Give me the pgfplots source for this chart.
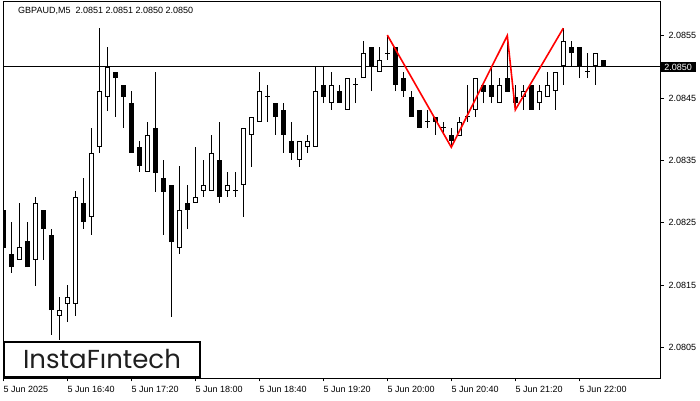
\documentclass[border=0pt]{standalone}
\usepackage{pgfplots}
\pgfplotsset{compat=1.18}
\usepackage{pgfplotstable}
\usepackage{fontspec}
\setmainfont{Liberation Sans}
\newfontfamily\logofont{Poppins}

\pgfplotstableread{
i o h l c
0 2.08271 2.08322 2.08202 2.08210
1 2.08200 2.08251 2.08170 2.08179
2 2.08191 2.08282 2.08191 2.08211
3 2.08221 2.08251 2.08179 2.08179
4 2.08191 2.08292 2.08149 2.08282
5 2.08271 2.08271 2.08191 2.08240
6 2.08231 2.08240 2.08070 2.08110
7 2.08101 2.08131 2.08062 2.08110
8 2.08120 2.08150 2.08091 2.08131
9 2.08120 2.08301 2.08101 2.08292
10 2.08282 2.08322 2.08240 2.08251
11 2.08260 2.08402 2.08231 2.08362
12 2.08372 2.08562 2.08362 2.08461
13 2.08452 2.08532 2.08429 2.08500
14 2.08492 2.08492 2.08420 2.08482
15 2.08471 2.08471 2.08402 2.08452
16 2.08442 2.08461 2.08362 2.08362
17 2.08372 2.08381 2.08332 2.08341
18 2.08332 2.08412 2.08332 2.08391
19 2.08402 2.08492 2.08300 2.08330
20 2.08322 2.08351 2.08231 2.08300
21 2.08311 2.08311 2.08099 2.08219
22 2.08210 2.08341 2.08200 2.08271
23 2.08282 2.08311 2.08240 2.08271
24 2.08282 2.08372 2.08282 2.08292
25 2.08301 2.08351 2.08292 2.08311
26 2.08301 2.08391 2.08301 2.08362
27 2.08351 2.08412 2.08282 2.08292
28 2.08301 2.08332 2.08292 2.08311
29 2.08301 2.08332 2.08292 2.08301
30 2.08311 2.08402 2.08260 2.08402
31 2.08391 2.08420 2.08340 2.08420
32 2.08412 2.08492 2.08412 2.08461
33 2.08452 2.08471 2.08412 2.08452
34 2.08442 2.08442 2.08391 2.08420
35 2.08431 2.08442 2.08362 2.08391
36 2.08381 2.08412 2.08351 2.08362
37 2.08351 2.08381 2.08340 2.08381
38 2.08372 2.08391 2.08362 2.08381
39 2.08372 2.08500 2.08372 2.08461
40 2.08471 2.08500 2.08442 2.08452
41 2.08442 2.08492 2.08431 2.08471
42 2.08461 2.08471 2.08442 2.08442
43 2.08431 2.08482 2.08431 2.08482
44 2.08471 2.08482 2.08442 2.08471
45 2.08482 2.08542 2.08482 2.08522
46 2.08532 2.08532 2.08461 2.08500
47 2.08492 2.08532 2.08492 2.08511
48 2.08522 2.08551 2.08511 2.08522
49 2.08532 2.08532 2.08461 2.08471
50 2.08482 2.08492 2.08452 2.08461
51 2.08452 2.08461 2.08420 2.08420
52 2.08431 2.08431 2.08402 2.08402
53 2.08412 2.08431 2.08402 2.08412
54 2.08420 2.08420 2.08391 2.08412
55 2.08402 2.08412 2.08391 2.08402
56 2.08391 2.08402 2.08371 2.08381
57 2.08389 2.08420 2.08389 2.08412
58 2.08420 2.08471 2.08412 2.08420
59 2.08431 2.08482 2.08420 2.08482
60 2.08471 2.08471 2.08442 2.08460
61 2.08471 2.08500 2.08442 2.08452
62 2.08442 2.08482 2.08442 2.08471
63 2.08482 2.08550 2.08460 2.08460
64 2.08452 2.08471 2.08431 2.08442
65 2.08452 2.08471 2.08431 2.08461
66 2.08471 2.08471 2.08431 2.08431
67 2.08442 2.08471 2.08431 2.08461
68 2.08452 2.08492 2.08452 2.08471
69 2.08461 2.08492 2.08431 2.08492
70 2.08501 2.08562 2.08471 2.08542
71 2.08532 2.08542 2.08501 2.08522
72 2.08532 2.08532 2.08482 2.08501
73 2.08492 2.08522 2.08482 2.08492
74 2.08501 2.08522 2.08471 2.08522
75 2.08511 2.08511 2.08501 2.08501
}\candles

\begin{document}
\begin{tikzpicture}[x=1pt,y=1pt]
\useasboundingbox (0,0) rectangle (700,400);
\begin{axis}[
  at={(3pt,22pt)}, anchor=south west, scale only axis,
  width=657pt, height=376pt,
  xmin=-0.04, xmax=82.09, ymin=2.08001, ymax=2.08604,
  clip mode=individual,
  axis line style={line width=1pt, black},
  every tick/.style={black, line width=1pt},
  major tick length=3.5pt,
  tick align=outside,
  xtick pos=bottom, ytick pos=right,
  yticklabel pos=right,
  xtick={0,8,...,72},
  xticklabels={5 Jun 2025,5 Jun 16:40,5 Jun 17:20,5 Jun 18:00,5 Jun 18:40,5 Jun 19:20,5 Jun 20:00,5 Jun 20:40,5 Jun 21:20,5 Jun 22:00},
  ytick={2.0805,2.0815,2.0825,2.0835,2.0845,2.0855},
  yticklabels={2.0805,2.0815,2.0825,2.0835,2.0845,2.0855},
  scaled y ticks=false,
  tick label style={font=\fontsize{9}{10}\selectfont, black},
  xticklabel style={anchor=north west, inner sep=0pt, yshift=-5pt},
  yticklabel style={anchor=west, inner sep=0pt, xshift=5pt},
  /pgf/number format/assume math mode=true,
]
% current price line
\addplot[black, line width=1pt, forget plot] coordinates {(-1,2.0850) (83,2.0850)};
% wicks
\addplot[draw=none, mark=none, forget plot,
  error bars/.cd, y dir=plus, y explicit, error mark=none,
  error bar style={draw=black, line width=1pt}]
  table[x=i, y=l, y error expr={\thisrow{h}-\thisrow{l}}] {\candles};
% bodies (outer black)
\addplot[draw=none, mark=none, forget plot,
  error bars/.cd, y dir=plus, y explicit, error mark=none,
  error bar style={draw=black, line width=5pt}]
  table[x=i, y expr={min(\thisrow{o},\thisrow{c})}, y error expr={abs(\thisrow{c}-\thisrow{o})}] {\candles};
% bullish bodies (white inside)
\addplot[draw=none, mark=none, forget plot,
  restrict expr to domain={\thisrow{c}-\thisrow{o}}{0.000005:1},
  error bars/.cd, y dir=plus, y explicit, error mark=none,
  error bar style={draw=white, line width=3pt, shorten <=1pt, shorten >=1pt}]
  table[x=i, y=o, y error expr={\thisrow{c}-\thisrow{o}}] {\candles};
% doji crosses
\addplot[only marks, mark=-, mark size=2.5pt, mark options={line width=1pt, draw=black}, forget plot,
  restrict expr to domain={abs(\thisrow{c}-\thisrow{o})}{0:0.000005}]
  table[x=i, y=o] {\candles};
% pattern lines
\addplot[red, line width=1.6pt, mark=none, forget plot] coordinates {
 (48,2.08551) (56,2.08371) (63,2.08550) (64,2.08431) (70,2.08562)};
\node[anchor=west, fill=black, text=white, inner xsep=0pt, inner ysep=1.6pt,
  minimum width=36pt, text height=6.6pt, text depth=0pt,
  font=\fontsize{9}{10}\selectfont] at (axis cs:82.09,2.0850) {2.0850};
\end{axis}
\node[anchor=west, inner sep=0pt, font=\fontsize{9}{10}\selectfont] at (18,389.5)
  {GBPAUD,M5\ \ 2.0851 2.0851 2.0850 2.0850};
\draw[line width=2pt, fill=white] (4,23) rectangle (200,58);
\node[font=\logofont\fontsize{26}{26}\selectfont, text=black!88, inner sep=0pt] at (102,41) {InstaFıntech};
\end{tikzpicture}
\end{document}
